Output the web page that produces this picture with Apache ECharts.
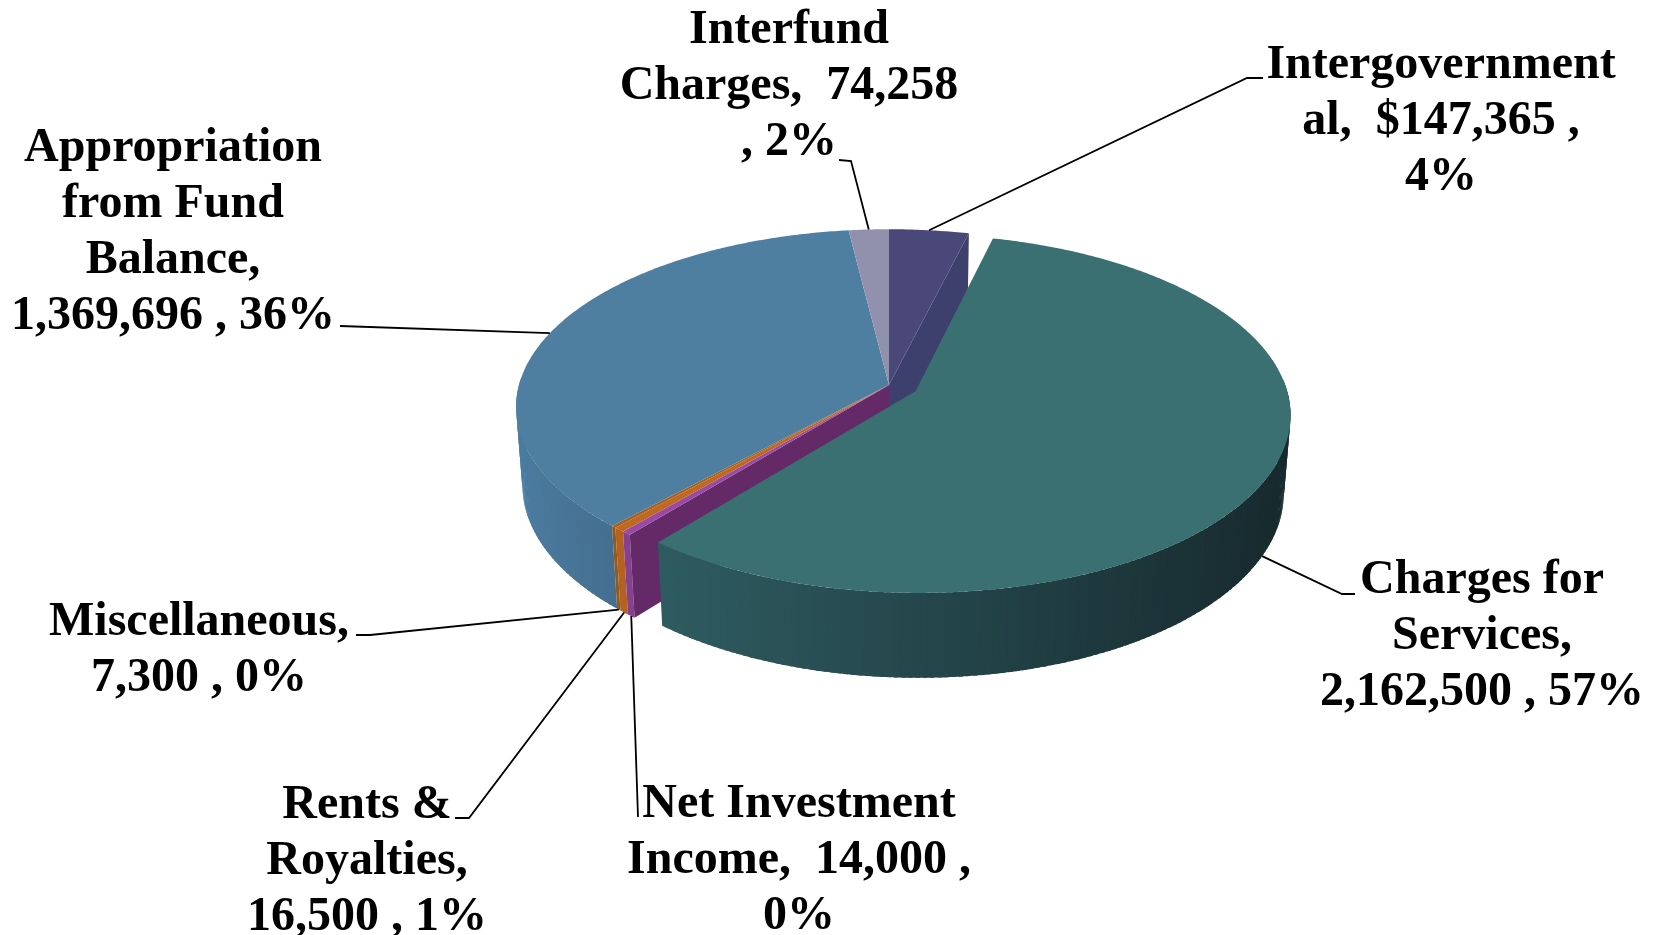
<!DOCTYPE html>
<html>
<head>
<meta charset="utf-8">
<style>html,body{margin:0;padding:0;background:#fff}#c{width:1654px;height:935px}</style>
<script src="https://cdn.jsdelivr.net/npm/echarts@6/dist/echarts.min.js"></script>
</head>
<body>
<div id="c"></div>
<script>
// ---- data (clockwise from 12 o'clock) ----
const categories = ['Intergovernmental','Charges for Services','Net Investment Income','Rents & Royalties','Miscellaneous','Appropriation from Fund Balance','Interfund Charges'];
const values = [147365,2162500,14000,16500,7300,1369696,74258];
const labelTexts = [
  'Intergovernment\nal,  $147,365 ,\n4%',
  'Charges for\nServices,\n2,162,500 , 57%',
  'Net Investment\nIncome,  14,000 ,\n0%',
  'Rents &\nRoyalties,\n16,500 , 1%',
  'Miscellaneous,\n7,300 , 0%',
  'Appropriation\nfrom Fund\nBalance,\n1,369,696 , 36%',
  'Interfund\nCharges,  74,258\n, 2%'
];
// ---- styles ----
const topColors  = ['#4A4878','#3B7072','#9A4AA6','#BE6821','#A8601F','#4F7FA0','#9191AE'];
const sideColors = [[61,63,108,61,63,108],[46,91,96,23,42,46],[134,64,142,134,64,142],[180,98,31,180,98,31],[143,90,42,143,90,42],[75,124,160,68,110,142],[119,119,150,119,119,150]];
const wallColors = {0:'#3D3F6C',2:'#642A68'};
// ---- projection of the tilted disc ----
const CX=889, CY=385, R=370, TILT=0.473, PERSP=0.1236, DEPTH=79, DEPTH_PERSP=0.017;
const explode = [0,0.08,0,0,0,0,0];
// ---- label layout: text centre, anchor level (0 top rim, 1 bottom rim), leader bend points ----
const labelBoxes = [[1441,122],[1482,637],[799,861],[367,862],[199,651],[173,233],[789,87]];
const anchorLevel = [0,1,1,1,1,0,0];
const leaderBends = [
  [[1263,78],[1247,78]],
  [[1355,594],[1342,594]],
  [[638,817]],
  [[455,818],[469,818]],
  [[356,635],[370,635]],
  [[340,326]],
  [[839,160],[851,161]]
];

const total = values.reduce((a,b)=>a+b,0);
const starts = []; values.reduce((acc,v,i)=>{starts[i]=acc;return acc+v/total*360;},0);

function proj(x,y,z){
  const den = 1 - PERSP*y + DEPTH_PERSP*z;
  return [CX + R*x/den, CY + (R*TILT*y + DEPTH*z)/den];
}
function rim(i,deg,z,r){
  const a = deg*Math.PI/180, mid=(starts[i]+values[i]/total*180)*Math.PI/180, e=explode[i];
  const rr = r===undefined?1:r;
  return proj(e*Math.sin(mid)+rr*Math.sin(a), -e*Math.cos(mid)-rr*Math.cos(a), z);
}
function arc(i,a0,a1,z){
  const pts=[], n=Math.max(2,Math.ceil((a1-a0)/0.5));
  for(let k=0;k<=n;k++) pts.push(rim(i,a0+(a1-a0)*k/n,z));
  return pts;
}
// outer wall: sequence of overlapping facets, each painted over the previous one's far edge
function sideQuads(i,a0,a1,base){
  const n=Math.max(2,Math.ceil((a1-a0))), segs=[], step=(a1-a0)/n;
  for(let k=0;k<n;k++){
    const s=a0+step*k, t=s+step, e=Math.max(a0,s-step*0.6);
    if(-Math.cos((s+t)/2*Math.PI/180) < -0.05) continue;   // back-facing, hidden by the top face
    const fine=[], m=2;
    for(let q=0;q<=m;q++) fine.push(rim(i,e+(t-e)*q/m,0));
    for(let q=m;q>=0;q--) fine.push(rim(i,e+(t-e)*q/m,1));
    segs.push({pts:fine,x:rim(i,s,0)[0]});
  }
  if(!segs.length) return [];
  const xs=segs.map(q=>q.x), lo=Math.min.apply(null,xs), hi=Math.max.apply(null,xs);
  const c=sideColors[i];
  return segs.map((q,k)=>{
    const f=hi>lo?(q.x-lo)/(hi-lo):0;
    const col='rgb('+[0,1,2].map(j=>Math.round(c[j]+(c[j+3]-c[j])*f)).join(',')+')';
    return {type:'polygon', z2:base+k*0.001, shape:{points:q.pts}, style:{fill:col}};
  });
}
function renderItem(params, api){
  const i = params.dataIndex, v = api.value(0);
  const a0 = starts[i], a1 = a0 + v/total*360;
  const base = explode[i] ? 4 : 1;
  const children = sideQuads(i,a0,a1,base);
  // inner wall exposed by the exploded slice
  if(wallColors[i]){
    const edge = i===0 ? a1 : a0;
    children.push({type:'polygon', z2:base+1, shape:{points:[rim(i,edge,0,0),rim(i,edge,0),rim(i,edge,1),rim(i,edge,1,0)]},
      style:{fill:wallColors[i]}});
  }
  // top face
  children.push({type:'polygon', z2:base+2, shape:{points:[rim(i,a0,0,0)].concat(arc(i,a0,a1,0))},
    style:{fill:topColors[i]}});
  // leader
  const anchor = rim(i,(a0+a1)/2,anchorLevel[i]);
  children.push({type:'polyline', z2:8, shape:{points:leaderBends[i].concat([anchor])},
    style:{stroke:'#000',lineWidth:1.8,fill:null}});
  // label
  children.push({type:'text', z2:9, style:{
    text:labelTexts[i], x:labelBoxes[i][0], y:labelBoxes[i][1], align:'center', verticalAlign:'middle',
    font:'bold 48px "Liberation Serif"', lineHeight:56, fill:'#000'}});
  return {type:'group', children};
}
const chart = echarts.init(document.getElementById('c'),null,{renderer:'canvas'});
chart.setOption({
  animation:false,
  backgroundColor:'#fff',
  series:[{
    type:'custom', coordinateSystem:'none', silent:true,
    data:values.map((v,i)=>({name:categories[i],value:[v]})),
    renderItem
  }]
});
</script>
</body>
</html>
